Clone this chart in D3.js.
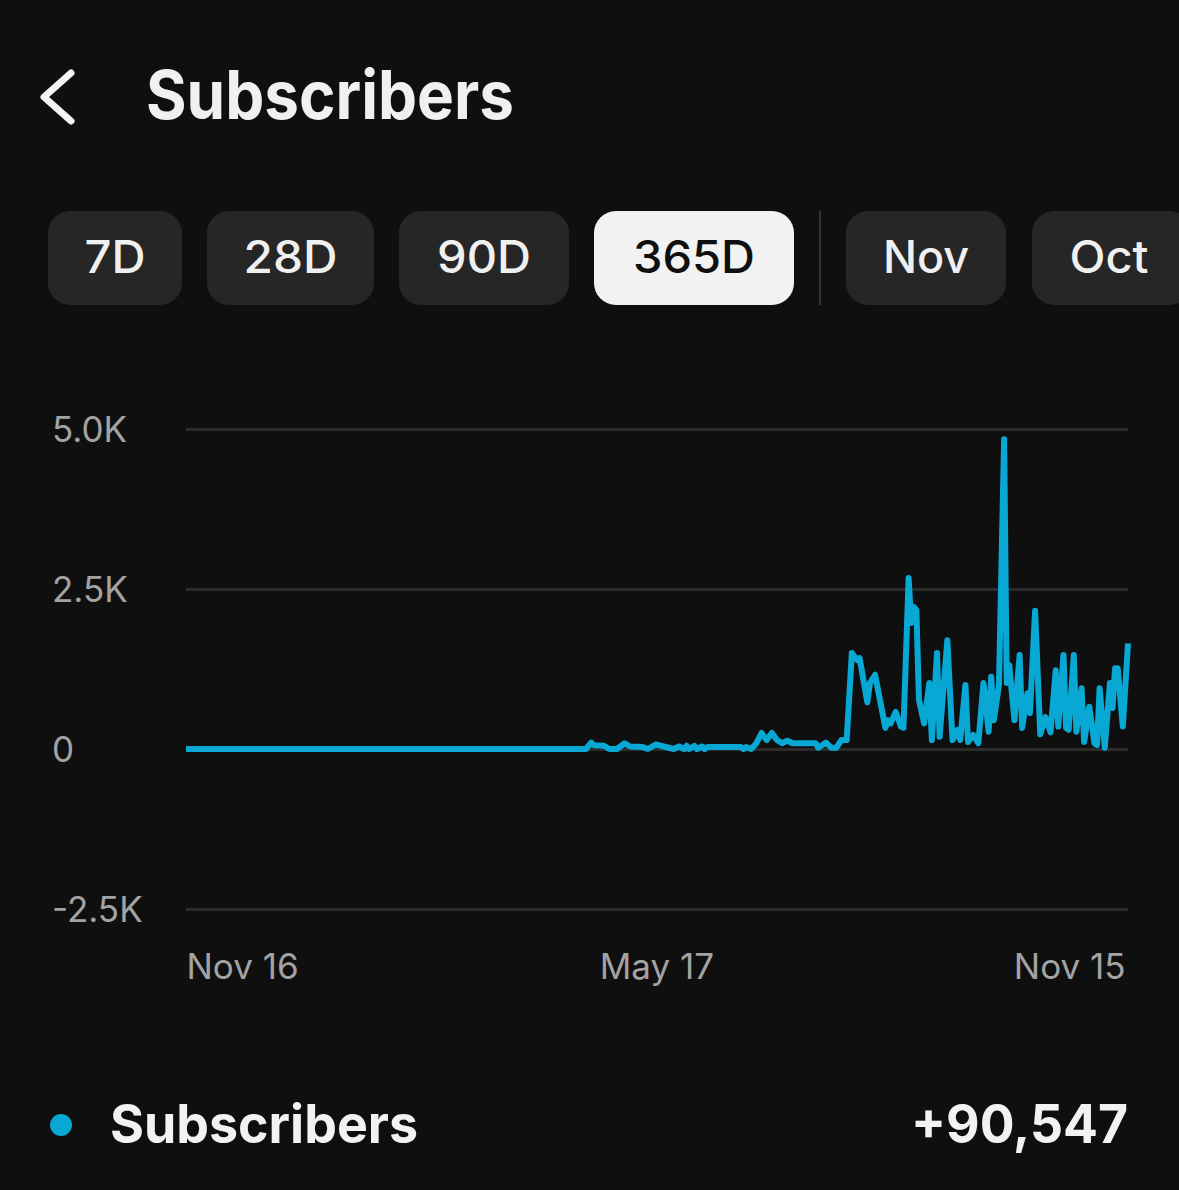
<!DOCTYPE html>
<html>
<head>
<meta charset="utf-8">
<script src="https://cdn.jsdelivr.net/npm/d3@7"></script>
<style>
  html, body { margin: 0; padding: 0; background: #0f0f0f; }
  svg { display: block; }
</style>
</head>
<body>
<svg id="chart" width="1179" height="1190"></svg>
<script>
// ---------------- data ----------------
const title = "Subscribers";
const rangeButtons = ["7D", "28D", "90D", "365D"];
const monthButtons = ["Nov", "Oct"];
const activeButton = "365D";

const startDate = "2023-11-16";
const endDate = "2024-11-15";

// day offsets from Nov 16 and daily net subscriber change at those days
const dayOffsets = [0,155,157,158,162,164,167,170,172,177,179,182,187,189,191,193,194,195,197,198,200,201,202,215,216,217,219,221,223,225,227,229,231,233,235,244,245,248,250,252,254,256,258,260,261,264,265,267,271,272,273,275,277,278,280,281,282,283,284,286,288,289,291,292,295,297,299,300,302,303,305,307,309,311,312,313,314,315,317,318,319,321,323,324,326,327,329,331,333,335,337,338,340,341,342,344,345,347,348,350,352,353,354,356,358,359,360,361,363,365];
const subscriberValues = [0,0,100,60,50,0,0,90,40,30,0,70,20,0,40,0,50,0,50,0,40,0,30,30,0,30,0,90,250,140,250,140,90,130,90,90,20,100,20,20,140,140,1500,1390,1420,730,1030,1160,330,450,400,580,350,330,2670,1970,2220,2170,770,400,1030,140,1500,190,1700,140,300,140,1000,110,220,90,1030,270,1130,450,720,1000,4840,1030,1310,450,1470,330,870,560,2160,230,500,260,1230,350,1470,330,300,1470,270,950,110,660,90,60,950,20,1030,640,1260,1260,350,1650];

const yTicks = [-2500, 0, 2500, 5000];
const yTickLabels = ["-2.5K", "0", "2.5K", "5.0K"];
const xTickDates = ["2023-11-16", "2024-05-17", "2024-11-15"];
const xTickLabels = ["Nov 16", "May 17", "Nov 15"];

const legendLabel = "Subscribers";
const legendTotal = "+90,547";

// ---------------- drawing ----------------
const svg = d3.select("#chart");
const FONT = "Inter, 'Noto Sans', sans-serif";
const BLUE = "#09a7d4";
const parse = d3.utcParse("%Y-%m-%d");

svg.append("rect").attr("width", 1179).attr("height", 1190).attr("fill", "#0f0f0f");

function fit(sel, w) {
  const node = sel.node();
  const len = node.getComputedTextLength();
  if (Math.abs(len - w) / w > 0.02) {
    sel.attr("textLength", w).attr("lengthAdjust", "spacingAndGlyphs");
  }
  return sel;
}

// header
svg.append("path")
  .attr("d", "M71,73 L44,97 L71,121")
  .attr("fill", "none").attr("stroke", "#f4f4f4")
  .attr("stroke-width", 7).attr("stroke-linecap", "round").attr("stroke-linejoin", "round");

fit(svg.append("text")
  .attr("x", 146).attr("y", 119)
  .attr("font-family", FONT).attr("font-weight", 700).attr("font-size", 67)
  .attr("fill", "#f0f0f0").text(title), 368);

// buttons
const btnLayout = {
  "7D": [48, 134], "28D": [207, 167], "90D": [399, 170], "365D": [594, 200],
  "Nov": [846, 160], "Oct": [1032, 160]
};
const textW = { "7D": 61, "28D": 94, "90D": 94, "365D": 122, "Nov": 87, "Oct": 79 };
const allButtons = rangeButtons.concat(monthButtons);
allButtons.forEach(label => {
  const [bx, bw] = btnLayout[label];
  const active = label === activeButton;
  svg.append("rect")
    .attr("x", bx).attr("y", 211).attr("width", bw).attr("height", 94)
    .attr("rx", 22).attr("ry", 22)
    .attr("fill", active ? "#f2f2f2" : "#262626");
  const t = svg.append("text")
    .attr("x", bx + bw / 2 + (label === "Oct" ? -3 : 0)).attr("y", 273)
    .attr("text-anchor", "middle")
    .attr("font-family", FONT).attr("font-weight", 500).attr("font-size", 45)
    .attr("fill", active ? "#0f0f0f" : "#f0f0f0").text(label);
  fit(t, textW[label]);
});
svg.append("line")
  .attr("x1", 820).attr("x2", 820).attr("y1", 211).attr("y2", 305)
  .attr("stroke", "#333333").attr("stroke-width", 2);

// scales
const x = d3.scaleUtc().domain([parse(startDate), parse(endDate)]).range([186, 1128]);
const y = d3.scaleLinear().domain([-2500, 5000]).range([909, 429]);

// y axis with gridlines
const yAxis = svg.append("g")
  .attr("transform", "translate(186,0)")
  .call(d3.axisLeft(y).tickValues(yTicks)
    .tickFormat((d, i) => yTickLabels[i])
    .tickSize(-942).tickPadding(0));
yAxis.select(".domain").remove();
yAxis.selectAll(".tick line").attr("stroke", "#2c2c2c").attr("stroke-width", 3);
yAxis.selectAll(".tick text")
  .attr("x", -134).attr("dy", "0.36em")
  .attr("text-anchor", "start")
  .attr("font-family", FONT).attr("font-size", 35)
  .attr("fill", "#a3a3a3");

// x axis
const xAxis = svg.append("g")
  .attr("transform", "translate(0,909)")
  .call(d3.axisBottom(x).tickValues(xTickDates.map(parse))
    .tickFormat((d, i) => xTickLabels[i]).tickSize(0).tickPadding(0));
xAxis.select(".domain").remove();
xAxis.selectAll(".tick text")
  .attr("y", 70).attr("dy", 0)
  .attr("text-anchor", (d, i) => i === 0 ? "start" : (i === xTickLabels.length - 1 ? "end" : "middle"))
  .attr("dx", (d, i) => i === 0 ? 0 : (i === xTickLabels.length - 1 ? -3 : -2))
  .attr("font-family", FONT).attr("font-size", 35)
  .attr("fill", "#a3a3a3");

// line
const series = dayOffsets.map((d, i) => ({ date: d3.utcDay.offset(parse(startDate), d), value: subscriberValues[i] }));
svg.append("path")
  .datum(series)
  .attr("fill", "none")
  .attr("stroke", BLUE)
  .attr("stroke-width", 6)
  .attr("stroke-linejoin", "round")
  .attr("stroke-linecap", "butt")
  .attr("d", d3.line().x(d => x(d.date)).y(d => y(d.value)));

// legend
svg.append("circle").attr("cx", 61).attr("cy", 1125).attr("r", 11).attr("fill", BLUE);
fit(svg.append("text")
  .attr("x", 110).attr("y", 1143)
  .attr("font-family", FONT).attr("font-weight", 700).attr("font-size", 53)
  .attr("fill", "#f2f2f2").text(legendLabel), 308);
fit(svg.append("text")
  .attr("x", 1128).attr("y", 1143).attr("text-anchor", "end")
  .attr("font-family", FONT).attr("font-weight", 700).attr("font-size", 53)
  .attr("fill", "#f2f2f2").text(legendTotal), 217);
</script>
</body>
</html>
